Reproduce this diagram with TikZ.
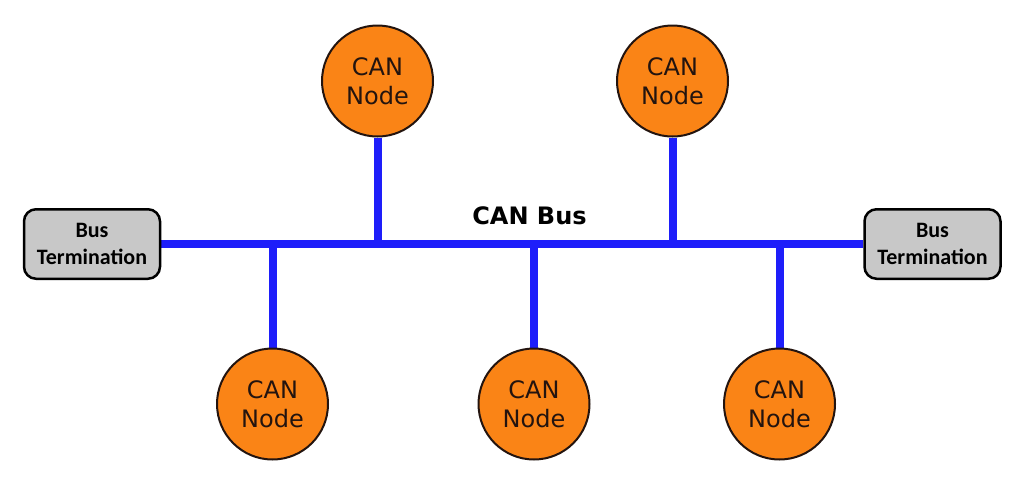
\documentclass[tikz,border=0pt]{standalone}
\usepackage{fontspec}
\setmainfont{DejaVu Sans}
\newfontfamily\carlito{Carlito}
\usetikzlibrary{backgrounds}
\definecolor{canorange}{RGB}{250,132,22}
\definecolor{busblue}{RGB}{30,30,250}
\definecolor{termgray}{RGB}{200,200,200}
\definecolor{darkline}{RGB}{35,20,15}
\begin{document}
\begin{tikzpicture}[x=1pt,y=-1pt,
  cannode/.style={circle, draw=darkline, line width=2pt, fill=canorange,
    minimum size=111pt, inner sep=0pt, align=center,
    font=\fontsize{24}{29}\selectfont, text=darkline},
  termbox/.style={rectangle, rounded corners=12pt, draw=black, line width=2.5pt,
    fill=termgray, minimum width=136pt, minimum height=69.5pt, align=center,
    inner sep=0pt, font=\carlito\bfseries\fontsize{22}{27}\selectfont},
  bus/.style={draw=busblue, line width=8pt},
  buslabel/.style={font=\bfseries\fontsize{24}{28}\selectfont, anchor=base}]
\path[use as bounding box] (0,0) rectangle (1024,477);
\node[termbox] (tl) at (92,244) {Bus\\Termination};
\node[termbox] (tr) at (932.5,244) {Bus\\Termination};
\node[cannode] (n1) at (377.5,81) {CAN\\Node};
\node[cannode] (n2) at (672.5,81) {CAN\\Node};
\node[cannode] (n3) at (272.5,404) {CAN\\Node};
\node[cannode] (n4) at (534,404) {CAN\\Node};
\node[cannode] (n5) at (779.5,404) {CAN\\Node};
\node[buslabel] (lbl) at (529.5,224) {CAN Bus};
\begin{scope}[on background layer]
  \draw[bus] (tl.east) -- (tr.west);
  \draw[bus] (n1.south) -- (n1.south |- tl.east);
  \draw[bus] (n2.south) -- (n2.south |- tl.east);
  \draw[bus] (n3.north) -- (n3.north |- tl.east);
  \draw[bus] (n4.north) -- (n4.north |- tl.east);
  \draw[bus] (n5.north) -- (n5.north |- tl.east);
\end{scope}
\end{tikzpicture}
\end{document}
